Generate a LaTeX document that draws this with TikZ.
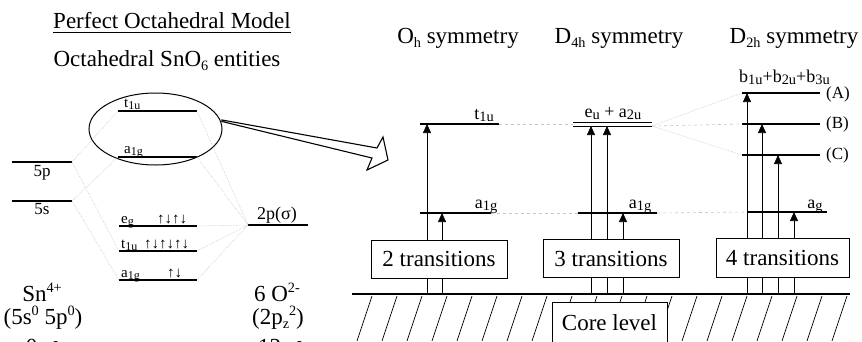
\documentclass[tikz,border=0pt]{standalone}
\usepackage{fontspec}
\setmainfont{Liberation Serif}
\usepackage{graphicx}
\usetikzlibrary{arrows.meta,shapes.geometric}
\newcommand\lsub[1]{\raisebox{-0.3ex}{\scalebox{0.8}{#1}}}
\newcommand\rsup[1]{\raisebox{0.85ex}{\scalebox{0.62}{#1}}}
\newcommand\rsub[1]{\raisebox{-0.45ex}{\scalebox{0.62}{#1}}}
\begin{document}
\begin{tikzpicture}[x=1pt,y=-1pt,
  big/.style={font=\fontsize{23}{27}\selectfont, inner sep=0pt},
  mid/.style={font=\fontsize{18}{21}\selectfont, inner sep=0pt},
  sml/.style={font=\fontsize{17}{19}\selectfont, inner sep=0pt},
  tiny/.style={font=\fontsize{15}{17}\selectfont, inner sep=0pt},
  lvl/.style={line width=1.1pt},
  faint/.style={gray!45, densely dotted, line width=0.6pt},
  tr/.style={line width=0.6pt, -{Triangle[length=9pt,width=8pt]}},
  tbox/.style={draw, fill=white, line width=0.8pt, font=\fontsize{23}{27}\selectfont, inner sep=0pt}
]
\useasboundingbox (0,0) rectangle (862,341);
\clip (0,0) rectangle (862,341);

% ---------------- left: titles
\node[big, anchor=base] (title) at (172,28) {Perfect Octahedral Model};
\draw[line width=0.7pt] ([yshift=-4pt]title.base west) -- ([yshift=-4pt]title.base east);
\node[big, anchor=base] (subt) at (167,66) {Octahedral SnO\rsub{6} entities};

% ellipse with zoomed levels
\node[draw, ellipse, line width=1pt, minimum width=133pt, minimum height=72pt, inner sep=0pt] (ell) at (155.5,129) {};
\coordinate (et1) at (118,111); \coordinate (et2) at (197,111);
\coordinate (ea1) at (118,157); \coordinate (ea2) at (197,157);
\draw[lvl] (et1) -- (et2);
\draw[lvl] (ea1) -- (ea2);
\node[tiny, anchor=base west] (etl) at (124,107) {t\lsub{1u}};
\node[tiny, anchor=base west] (eal) at (124,153) {a\lsub{1g}};

% hollow arrow
\coordinate (h0) at (222,120); \coordinate (h1) at (377,148); \coordinate (h2) at (383,137);
\coordinate (h3) at (388,160); \coordinate (h4) at (367,170); \coordinate (h5) at (372,158);
\coordinate (h6) at (222,121.5);
\draw[line width=1.1pt, fill=white, line join=miter] (h0) -- (h1) -- (h2) -- (h3) -- (h4) -- (h5) -- (h6) -- cycle;

% Sn levels
\coordinate (p1) at (12,162); \coordinate (p2) at (72,162);
\coordinate (s1) at (12,201); \coordinate (s2) at (72,201);
\draw[lvl] (p1) -- (p2);
\draw[lvl] (s1) -- (s2);
\node[sml, anchor=base] (pl) at (42,176) {5p};
\node[sml, anchor=base] (sl) at (42,214) {5s};

% MO levels
\coordinate (g1) at (119,226); \coordinate (g2) at (197,226);
\coordinate (u1) at (119,251); \coordinate (u2) at (197,251);
\coordinate (a1) at (119,280); \coordinate (a2) at (197,280);
\draw[lvl] (g1) -- (g2);
\draw[lvl] (u1) -- (u2);
\draw[lvl] (a1) -- (a2);
\node[tiny, anchor=base west] (gl) at (121,223) {e\lsub{g}};
\node[tiny, anchor=base west] (ga) at (157,223) {↑↓↑↓};
\node[tiny, anchor=base west] (ul) at (121,248) {t\lsub{1u}};
\node[tiny, anchor=base west] (ua) at (144,248) {↑↓↑↓↑↓};
\node[tiny, anchor=base west] (al) at (121,277) {a\lsub{1g}};
\node[tiny, anchor=base west] (aa) at (167,277) {↑↓};

% O levels
\coordinate (o1) at (248,225); \coordinate (o2) at (308,225);
\draw[lvl] (o1) -- (o2);
\node[mid, anchor=base] (ol) at (277,219) {2p(σ)};

% faint correlation lines
\draw[faint] (et2) -- (o1);
\draw[faint] (ea2) -- (o1);
\draw[faint] (o1) -- (g2);
\draw[faint] (o1) -- (u2);
\draw[faint] (o1) -- (a2);
\draw[faint] (p2) -- (et1);
\draw[faint] (s2) -- (ea1);
\draw[faint] (p2) -- (u1);
\draw[faint] (s2) -- (a1);

% species labels
\node[big, anchor=base] (sn) at (42,301) {Sn\rsup{4+}};
\node[big, anchor=base] (snc) at (43,324) {(5s\rsup{0} 5p\rsup{0})};
\node[big, anchor=base] (sne) at (42,354) {0 e\rsup{-}};
\node[big, anchor=base] (ox) at (277,301) {6 O\rsup{2-}};
\node[big, anchor=base] (oxc) at (278,324) {(2p\rsub{z}\rsup{2})};
\node[big, anchor=base] (oxe) at (280,354) {12 e\rsup{-}};

% ---------------- right: symmetry headings
\node[big, anchor=base] (oh) at (458,43) {O\rsub{h} symmetry};
\node[big, anchor=base] (d4) at (619,43) {D\rsub{4h} symmetry};
\node[big, anchor=base] (d2) at (794,43) {D\rsub{2h} symmetry};

% base line and hatching
\coordinate (bl) at (352,294); \coordinate (br) at (850,294);
\foreach \x in {372,397,...,847} {\draw[line width=0.7pt] (\x,296) -- (\x-15,341);}
\draw[line width=1.4pt] (bl) -- (br);

% Oh levels
\coordinate (Ot1) at (420,124); \coordinate (Ot2) at (499,124);
\coordinate (Oa1) at (420,213); \coordinate (Oa2) at (491,213);
\draw[lvl] (Ot1) -- (Ot2);
\draw[lvl] (Oa1) -- (Oa2);
\node[mid, anchor=base] (Otl) at (484,119) {t\lsub{1u}};
\node[mid, anchor=base] (Oal) at (486,208) {a\lsub{1g}};

% D4h levels
\coordinate (Dt1) at (573,122); \coordinate (Dt2) at (652,122);
\coordinate (Dt3) at (573,126); \coordinate (Dt4) at (652,126);
\coordinate (Da1) at (578,213); \coordinate (Da2) at (657,213);
\draw[line width=0.9pt] (Dt1) -- (Dt2);
\draw[line width=0.9pt] (Dt3) -- (Dt4);
\draw[lvl] (Da1) -- (Da2);
\node[mid, anchor=base] (Dtl) at (613,117) {e\lsub{u} + a\lsub{2u}};
\node[mid, anchor=base] (Dal) at (640,208) {a\lsub{1g}};

% D2h levels
\coordinate (A1) at (742,93);  \coordinate (A2) at (820,93);
\coordinate (B1) at (742,124); \coordinate (B2) at (820,124);
\coordinate (C1) at (742,155); \coordinate (C2) at (820,155);
\coordinate (G1) at (747,212); \coordinate (G2) at (827,212);
\draw[lvl] (A1) -- (A2);
\draw[lvl] (B1) -- (B2);
\draw[lvl] (C1) -- (C2);
\draw[lvl] (G1) -- (G2);
\node[mid, anchor=base west] (bl3) at (739,82) {b\lsub{1u}+b\lsub{2u}+b\lsub{3u}};
\node[sml, anchor=west] (Al) at (826,94) {(A)};
\node[sml, anchor=west] (Bl) at (826,124) {(B)};
\node[sml, anchor=west] (Cl) at (826,155) {(C)};
\node[mid, anchor=base] (Gl) at (815,208) {a\lsub{g}};

% faint correlation lines (right)
\draw[faint, dashed] (Ot2) -- (Dt3 |- Ot2);
\draw[faint, dashed] (Oa2) -- (Da1);
\draw[faint, dashed] (Da2) -- (G1);
\draw[faint] (Dt4) -- (A1);
\draw[faint, dashed] (Dt4) -- (B1);
\draw[faint] (Dt4) -- (C1);

% transitions
\coordinate (r1) at (427,294); \coordinate (r2) at (442,294);
\coordinate (r3) at (591,294); \coordinate (r4) at (607,294); \coordinate (r5) at (623,294);
\coordinate (r6) at (747,294); \coordinate (r7) at (762,294); \coordinate (r8) at (778,294); \coordinate (r9) at (794,294);
\draw[tr] (r1) -- (r1 |- Ot1);
\draw[tr] (r2) -- (r2 |- Oa1);
\draw[tr] (r3) -- (r3 |- Dt3);
\draw[tr] (r4) -- (r4 |- Dt3);
\draw[tr] (r5) -- (r5 |- Da1);
\draw[tr] (r6) -- (r6 |- A1);
\draw[tr] (r7) -- (r7 |- B1);
\draw[tr] (r8) -- (r8 |- C1);
\draw[tr] (r9) -- (r9 |- G1);

% boxes
\node[tbox, minimum width=136pt, minimum height=38pt] (b2) at (439,259) {2 transitions};
\node[tbox, minimum width=136pt, minimum height=38pt] (b3) at (611,258.5) {3 transitions};
\node[tbox, minimum width=133pt, minimum height=39pt] (b4) at (782.5,257.5) {4 transitions};
\node[tbox, minimum width=115pt, minimum height=42pt] (core) at (609.5,323) {Core level};
\end{tikzpicture}
\end{document}
